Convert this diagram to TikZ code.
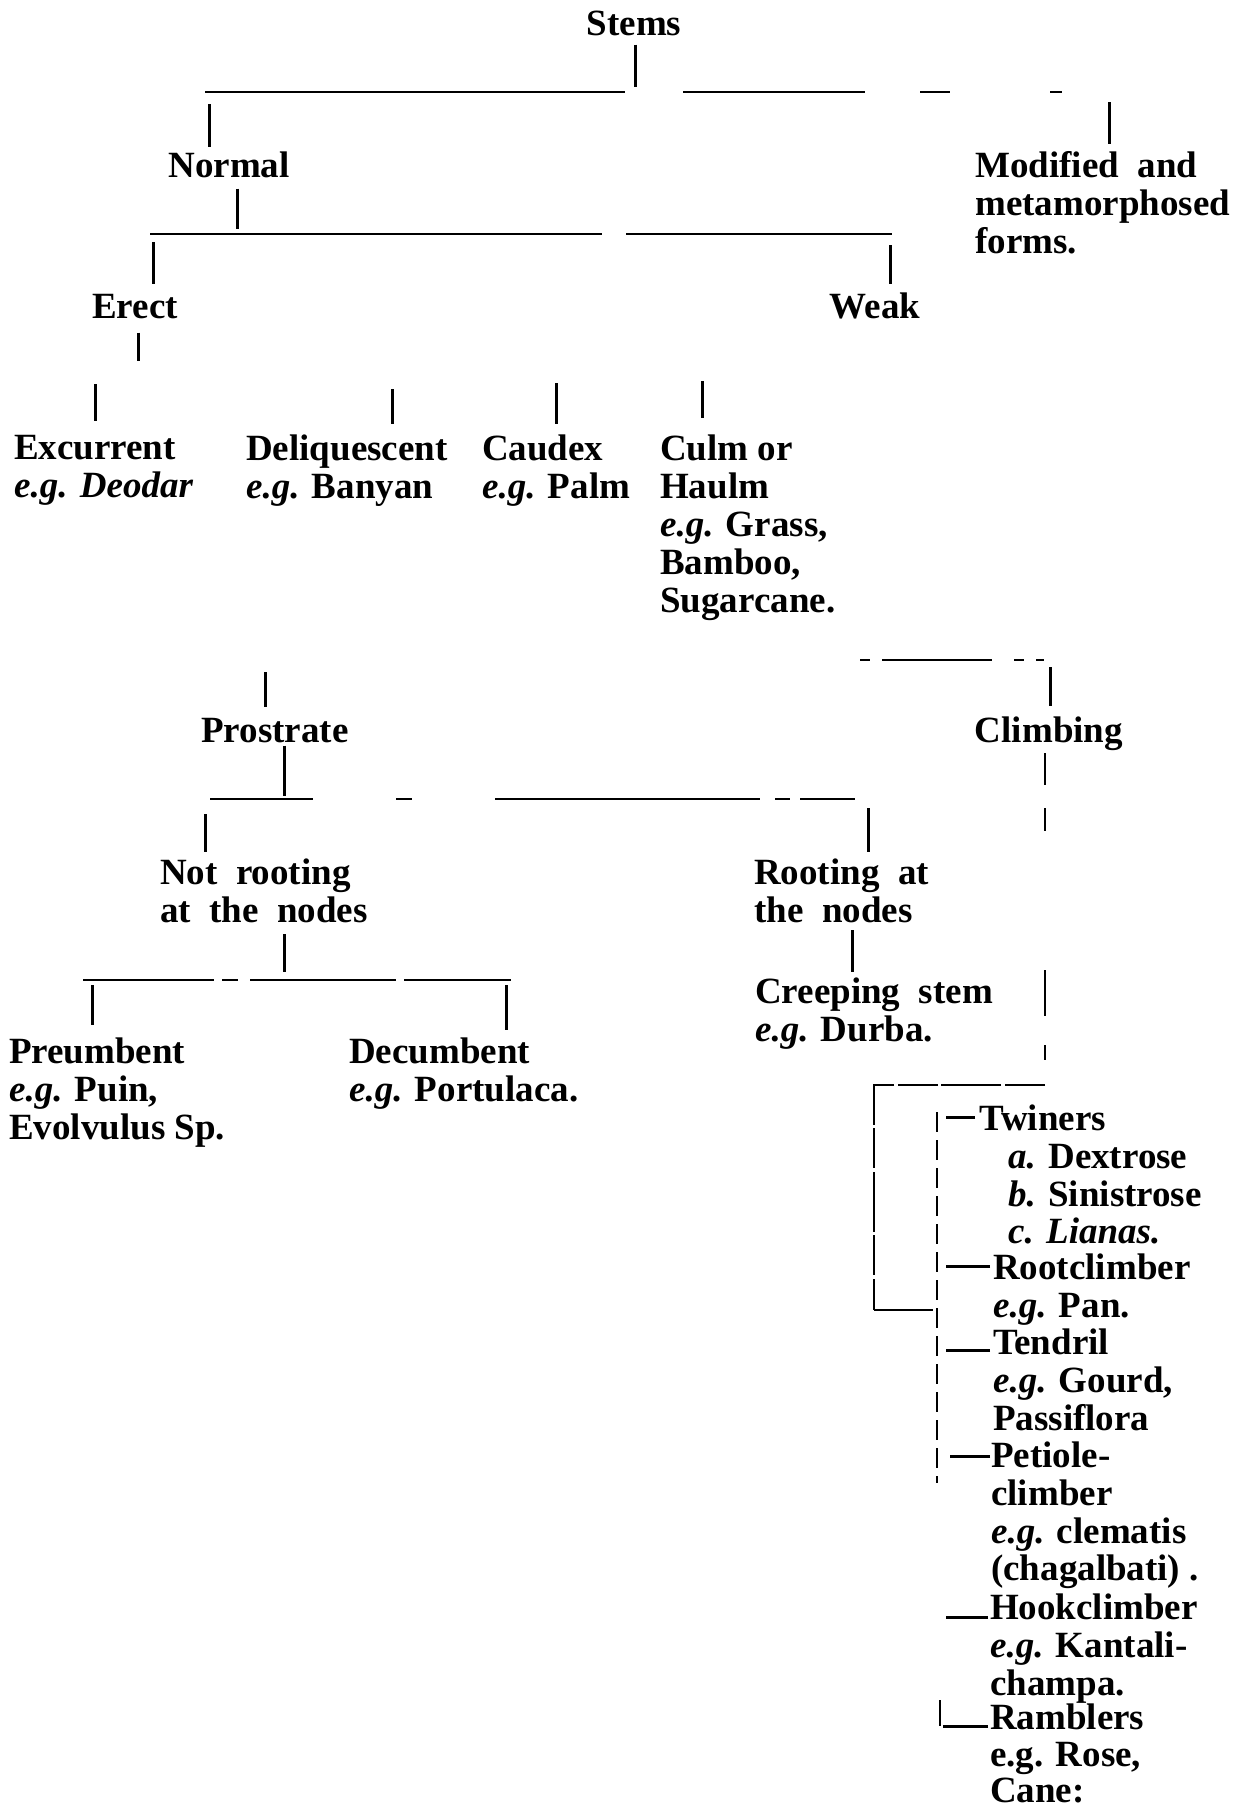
\documentclass[tikz,border=0pt]{standalone}
\usepackage{fontspec}
\setmainfont{Liberation Serif}
\begin{document}
\begin{tikzpicture}[x=1pt,y=-1pt,
  lbl/.style={font=\fontsize{37}{38}\selectfont\bfseries, inner sep=0pt, align=left},
  clb/.style={font=\fontsize{37}{37.6}\selectfont\bfseries, inner sep=0pt, align=left, anchor=north west},
  vl/.style={line width=3pt},
  hb/.style={line width=1.6pt},
  dsh/.style={line width=3pt}]
\useasboundingbox (0,0) rectangle (1242,1810);
\fill[white] (0,0) rectangle (1242,1810);

% ---------- nodes ----------
\node[lbl,anchor=base] (stems) at (634,35) {Stems};
\node[lbl,anchor=base] (normal) at (229,177) {Normal};
\node[lbl,anchor=north west] (modified) at (975,151) {Modified\ \ and\\metamorphosed\\forms.};
\node[lbl,anchor=base] (erect) at (135,318) {Erect};
\node[lbl,anchor=base] (weak) at (875,318) {Weak};
\node[lbl,anchor=north west] (excurrent) at (14,435) {Excurrent\\\textit{e.g. Deodar}};
\node[lbl,anchor=north west] (deliq) at (246,435) {Deliquescent\\\textit{e.g.} Banyan};
\node[lbl,anchor=north west] (caudex) at (482,435) {Caudex\\\textit{e.g.} Palm};
\node[lbl,anchor=north west] (culm) at (660,435) {Culm or\\Haulm\\\textit{e.g.} Grass,\\Bamboo,\\Sugarcane.};
\node[lbl,anchor=base] (prostrate) at (275,742) {Prostrate};
\node[lbl,anchor=base] (climbing) at (1049,742) {Climbing};
\node[lbl,anchor=north west] (notroot) at (160,859) {Not\ \ rooting\\at\ \ the\ \ nodes};
\node[lbl,anchor=north west] (root) at (754,859) {Rooting\ \ at\\the\ \ nodes};
\node[lbl,anchor=north west] (preu) at (9,1038) {Preumbent\\\textit{e.g.} Puin,\\Evolvulus Sp.};
\node[lbl,anchor=north west] (decu) at (349,1038) {Decumbent\\\textit{e.g.} Portulaca.};
\node[lbl,anchor=north west] (creep) at (755,978) {Creeping\ \ stem\\\textit{e.g.} Durba.};

\node[clb] (twiners) at (979,1105) {Twiners\\\hspace*{29pt}\textit{a.} Dextrose\\\hspace*{29pt}\textit{b.} Sinistrose\\\hspace*{29pt}\textit{c. Lianas.}};
\node[clb] (rootcl) at (993,1254) {Rootclimber\\\textit{e.g.} Pan.};
\node[clb] (tendril) at (993,1329) {Tendril\\\textit{e.g.} Gourd,\\Passiflora};
\node[clb] (petiole) at (991,1442) {Petiole-\\climber\\\textit{e.g.} clematis\\(chagalbati) .};
\node[clb] (hook) at (990,1594) {Hookclimber\\\textit{e.g.} Kantali-\\champa.};
\node[clb, font=\fontsize{37}{36.5}\selectfont\bfseries] (ramb) at (990,1704) {Ramblers\\e.g. Rose,\\Cane:};

% ---------- level 1 ----------
\coordinate (b1L) at (205,92); \coordinate (b1R) at (1062,92);
\draw[hb, dash pattern=on 420pt off 58pt on 182pt off 55pt on 30pt off 100pt on 12pt off 10pt] (b1L) -- (b1R);
\coordinate (t1) at (635,92);
\draw[vl, shorten <=9pt, shorten >=5pt] (t1 |- stems.south) -- (t1);
\coordinate (t2) at (209,92);
\draw[vl, shorten <=12pt, shorten >=4pt] (t2) -- (t2 |- normal.north);
\coordinate (t3) at (1109,92);
\draw[vl, shorten <=10pt, shorten >=7pt] (t3) -- (t3 |- modified.north);

% ---------- level 2 ----------
\coordinate (b2L) at (150,234); \coordinate (b2R) at (892,234);
\draw[hb, dash pattern=on 452pt off 24pt on 266pt off 10pt] (b2L) -- (b2R);
\coordinate (t4) at (237,234);
\draw[vl, shorten <=11pt, shorten >=5pt] (t4 |- normal.south) -- (t4);
\coordinate (t5) at (153,234);
\draw[vl, shorten <=8pt, shorten >=10pt] (t5) -- (t5 |- erect.north);
\coordinate (t6) at (890,234);
\draw[vl, shorten <=11pt, shorten >=8pt] (t6) -- (t6 |- weak.north);

% ---------- erect children ----------
\coordinate (e1) at (138,361);
\draw[vl, shorten <=14pt] (e1 |- erect.south) -- (e1);
\coordinate (c1) at (95,384);
\draw[vl, shorten >=14pt] (c1) -- (c1 |- excurrent.north);
\coordinate (c2) at (392,389);
\draw[vl, shorten >=11pt] (c2) -- (c2 |- deliq.north);
\coordinate (c3) at (556,383);
\draw[vl, shorten >=11pt] (c3) -- (c3 |- caudex.north);
\coordinate (c4) at (702,381);
\draw[vl, shorten >=17pt] (c4) -- (c4 |- culm.north);

% ---------- weak children ----------
\coordinate (b3L) at (860,660); \coordinate (b3R) at (1045,660);
\draw[hb, dash pattern=on 10pt off 12pt on 110pt off 22pt on 10pt off 12pt on 8pt off 10pt] (b3L) -- (b3R);
\coordinate (t7) at (1050,660);
\draw[vl, shorten <=7pt, shorten >=10pt] (t7) -- (t7 |- climbing.north);
\coordinate (c5) at (265,672);
\draw[vl, shorten >=11pt] (c5) -- (c5 |- prostrate.north);

% ---------- prostrate children ----------
\coordinate (b4L) at (210,799); \coordinate (b4R) at (855,799);
\draw[hb, dash pattern=on 103pt off 83pt on 16pt off 83pt on 265pt off 15pt on 15pt off 10pt on 55pt off 10pt] (b4L) -- (b4R);
\coordinate (t8) at (284,799);
\draw[vl, shorten <=3pt, shorten >=3pt] (t8 |- prostrate.south) -- (t8);
\coordinate (t9) at (205,799);
\draw[vl, shorten <=15pt, shorten >=7pt] (t9) -- (t9 |- notroot.north);
\coordinate (t10) at (868,799);
\draw[vl, shorten <=9pt, shorten >=7pt] (t10) -- (t10 |- root.north);

% ---------- not rooting children ----------
\coordinate (b5L) at (83,980); \coordinate (b5R) at (511,980);
\draw[hb, dash pattern=on 131pt off 8pt on 16pt off 12pt on 146pt off 8pt on 107pt off 10pt] (b5L) -- (b5R);
\coordinate (t11) at (284,980);
\draw[vl, shorten <=11pt, shorten >=8pt] (t11 |- notroot.south) -- (t11);
\coordinate (t12) at (92,980);
\draw[vl, shorten <=5pt, shorten >=13pt] (t12) -- (t12 |- preu.north);
\coordinate (t13) at (506,980);
\draw[vl, shorten <=5pt, shorten >=8pt] (t13) -- (t13 |- decu.north);

% ---------- rooting child ----------
\coordinate (t14) at (852,950);
\draw[vl, shorten <=7pt, shorten >=6pt] (t14 |- root.south) -- (t14 |- creep.north);

% ---------- climbing ----------
\coordinate (cl1) at (1045,1062);
\draw[hb, dash pattern=on 32pt off 23pt on 23pt off 139pt on 46pt off 29pt on 15pt off 10pt, shorten <=3pt] (cl1 |- climbing.south) -- (cl1);
\coordinate (brTR) at (1045,1085); \coordinate (brTL) at (874,1085);
\coordinate (brBL) at (874,1310);  \coordinate (brBR) at (933,1310);
\draw[hb, dash pattern=on 40pt off 4pt on 60pt off 3pt] (brTR) -- (brTL) -- (brBL);
\draw[line width=2.5pt] (brBL) -- (brBR);
\coordinate (sp1) at (937,1112); \coordinate (sp2) at (937,1483);
\draw[hb, dash pattern=on 20pt off 8pt] (sp1) -- (sp2);
\coordinate (sp3) at (940,1700); \coordinate (sp4) at (940,1726);
\draw[hb] (sp3) -- (sp4);

\draw[dsh] ([xshift=-4pt,yshift=-12pt]twiners.north west) -- ++(-29,0);
\draw[dsh] ([xshift=-3pt,yshift=-12pt]rootcl.north west) -- ++(-44,0);
\draw[dsh] ([xshift=-3pt,yshift=-21pt]tendril.north west) -- ++(-44,0);
\draw[dsh] ([xshift=-1pt,yshift=-14pt]petiole.north west) -- ++(-40,0);
\draw[dsh] ([xshift=-2pt,yshift=-23pt]hook.north west) -- ++(-42,0);
\draw[dsh] ([xshift=-2pt,yshift=-22pt]ramb.north west) -- ++(-45,0);
\end{tikzpicture}
\end{document}
